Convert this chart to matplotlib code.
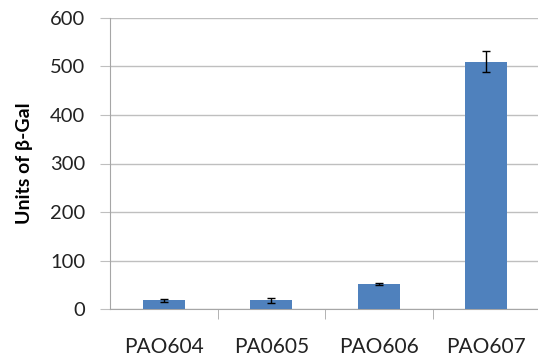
import matplotlib
matplotlib.use("Agg")
import matplotlib.pyplot as plt

strains = ["PAO604", "PA0605", "PAO606", "PAO607"]
units = [18, 18, 51, 510]
errors = [3, 5, 2, 21]
yticks = [0, 100, 200, 300, 400, 500, 600]

plt.rcParams['font.family'] = ['Lato', 'DejaVu Sans']

fig = plt.figure(figsize=(5.38, 3.64), dpi=100)
ax = fig.add_axes([110/538, 1 - 309/364, 430/538, 291/364])

x = range(len(strains))
ax.bar(x, units, width=0.39, color="#4F81BD", zorder=3,
       yerr=errors, error_kw=dict(ecolor="black", elinewidth=1.0, capsize=3, capthick=1.0, zorder=4))

ax.set_xlim(-0.5, len(strains) - 0.5)
ax.set_ylim(0, 600)
ax.set_yticks(yticks)
ax.set_xticks(list(x))
ax.set_xticklabels(strains)
ax.set_xticks([0.5, 1.5, 2.5], minor=True)

ax.grid(axis="y", color="#BFBFBF", linewidth=1.0, zorder=0)
for side in ["top", "right"]:
    ax.spines[side].set_visible(False)
ax.spines["left"].set_color("#A6A6A6")
ax.spines["bottom"].set_color("#A6A6A6")

ax.tick_params(axis="y", length=7, color="#BFBFBF", labelsize=14.5, pad=11, labelcolor="#222222")
ax.tick_params(axis="x", which="major", length=0, labelsize=15, pad=20, labelcolor="#222222")
ax.tick_params(axis="x", which="minor", length=7, color="#A6A6A6")

ax.set_ylabel("Units of β-Gal", fontsize=14, fontweight="bold", labelpad=12)

fig.savefig("out.png", dpi=100)
